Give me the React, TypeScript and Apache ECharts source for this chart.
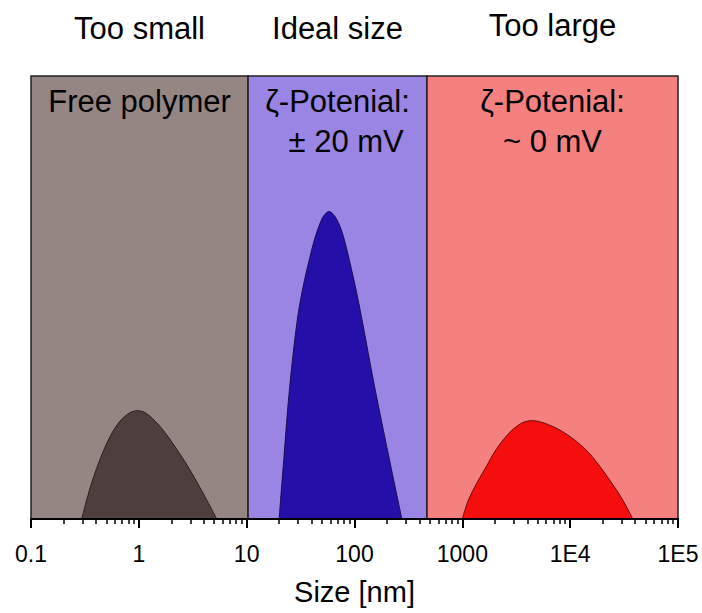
import React, { useEffect, useRef } from "react";
import * as echarts from "echarts";

const FONT = "'Liberation Sans', Arial, sans-serif";

const decadeValues = [0.1, 1, 10, 100, 1000, 10000, 100000];
const decadeLabels = ["0.1", "1", "10", "100", "1000", "1E4", "1E5"];
const minorMultipliers = [2, 3, 4, 5, 6, 7, 8, 9];

const bandEdges = [0.1, 10.3, 470, 100000];
const bandTitles = ["Too small", "Ideal size", "Too large"];
const bandNotes = ["Free polymer", "ζ-Potenial:\n  ± 20 mV", "ζ-Potenial:\n~ 0 mV"];
const bandColors = ["#958683", "#9a84e4", "#f48080"];

const polymerSize = [0.295, 0.324, 0.368, 0.437, 0.541, 0.669, 0.829, 0.969, 1.142, 1.413, 1.75, 2.167, 2.683, 3.321, 4.113, 5.28];
const polymerSignal = [0, 0.038, 0.084, 0.135, 0.186, 0.221, 0.24, 0.2445, 0.24, 0.221, 0.195, 0.163, 0.129, 0.091, 0.05, 0];
const idealSize = [20, 22.2, 24.9, 29.2, 32.9, 38.7, 42.5, 48.0, 52.8, 58.1, 64.0, 70.9, 78.4, 85.9, 101.3, 116.9, 152.9, 206.3, 274.7];
const idealSignal = [0, 0.141, 0.291, 0.442, 0.517, 0.592, 0.63, 0.668, 0.687, 0.694, 0.687, 0.669, 0.64, 0.603, 0.527, 0.452, 0.301, 0.145, 0];
const largeSize = [1000, 1139, 1363, 1663, 2046, 2718, 3314, 3820, 4413, 6290, 9320, 13780, 18300, 23860, 30370, 38150];
const largeSignal = [0, 0.043, 0.081, 0.118, 0.156, 0.194, 0.212, 0.2195, 0.222, 0.213, 0.191, 0.158, 0.123, 0.084, 0.045, 0];

const curves = [
  { name: "polymer", x: polymerSize, y: polymerSignal, fill: "#4e3f3e", stroke: "#2a1f1f" },
  { name: "ideal", x: idealSize, y: idealSignal, fill: "#2410a8", stroke: "#1a0c50" },
  { name: "large", x: largeSize, y: largeSignal, fill: "#f40e0e", stroke: "#6a0a0a" },
];

const minorTicks = decadeValues
  .slice(0, -1)
  .flatMap((d) => minorMultipliers.map((m) => d * m));

function labelFor(v: number): string {
  const lv = Math.log10(v);
  for (let i = 0; i < decadeValues.length; i++) {
    if (Math.abs(Math.log10(decadeValues[i]) - lv) < 0.01) return decadeLabels[i];
  }
  return "";
}

export default function App() {
  const ref = useRef<HTMLDivElement>(null);
  useEffect(() => {
    document.body.style.margin = "0";
    const chart = echarts.init(ref.current!, null, { renderer: "svg" });
    const bandAreas = bandTitles.map((t, i) => [
      {
        xAxis: bandEdges[i],
        name: t,
        itemStyle: { color: bandColors[i] },
        label: { distance: i === 2 ? 34 : 31 },
      },
      { xAxis: bandEdges[i + 1] },
    ]);
    const noteAreas = bandNotes.map((t, i) => [
      { xAxis: bandEdges[i], name: t },
      { xAxis: bandEdges[i + 1] },
    ]);
    const option: any = {
      animation: false,
      grid: { left: 31, right: 24, top: 76, bottom: 94 },
      xAxis: [
        {
          type: "log",
          logBase: 10,
          min: 0.1,
          max: 100000,
          interval: 1,
          position: "bottom",
          axisLine: { show: true, lineStyle: { color: "#000", width: 2 } },
          axisTick: { show: true, inside: false, length: 9, lineStyle: { color: "#000", width: 2 } },
          axisLabel: {
            fontSize: 23,
            color: "#000",
            margin: 23,
            fontFamily: FONT,
            formatter: (v: number) => labelFor(v),
          },
          splitLine: { show: false },
          name: "Size [nm]",
          nameLocation: "middle",
          nameGap: 58,
          nameTextStyle: { fontSize: 29, color: "#000", fontFamily: FONT },
          z: 10,
        },
        {
          type: "log",
          logBase: 10,
          min: 0.1,
          max: 100000,
          position: "bottom",
          axisLine: { show: false },
          axisTick: {
            show: true,
            inside: false,
            length: 5,
            customValues: minorTicks,
            lineStyle: { color: "#000", width: 1.5 },
          },
          axisLabel: { show: false },
          splitLine: { show: false },
          z: 10,
        },
      ],
      yAxis: { type: "value", min: 0, max: 1, show: false },
      series: [
        {
          type: "line",
          data: [],
          z: 1,
          markArea: {
            silent: true,
            itemStyle: { borderColor: "#222", borderWidth: 1.5 },
            label: {
              show: true,
              position: "top",
              fontSize: 31,
              color: "#000",
              fontFamily: FONT,
            },
            data: bandAreas,
          },
        },
        {
          type: "line",
          data: [],
          z: 2,
          markArea: {
            silent: true,
            itemStyle: { color: "rgba(0,0,0,0)", borderWidth: 0 },
            label: {
              show: true,
              position: "insideTop",
              distance: 5,
              fontSize: 31,
              lineHeight: 40,
              align: "center",
              color: "#000",
              fontFamily: FONT,
            },
            data: noteAreas,
          },
        },
        ...curves.map((c) => ({
          type: "line",
          name: c.name,
          z: 5,
          smooth: 0.35,
          symbol: "none",
          data: c.x.map((x, i) => [x, c.y[i]]),
          lineStyle: { color: c.stroke, width: 1 },
          areaStyle: { color: c.fill, opacity: 1 },
        })),
      ],
    };
    chart.setOption(option);
    return () => chart.dispose();
  }, []);
  return <div ref={ref} style={{ width: 702, height: 613 }} />;
}
